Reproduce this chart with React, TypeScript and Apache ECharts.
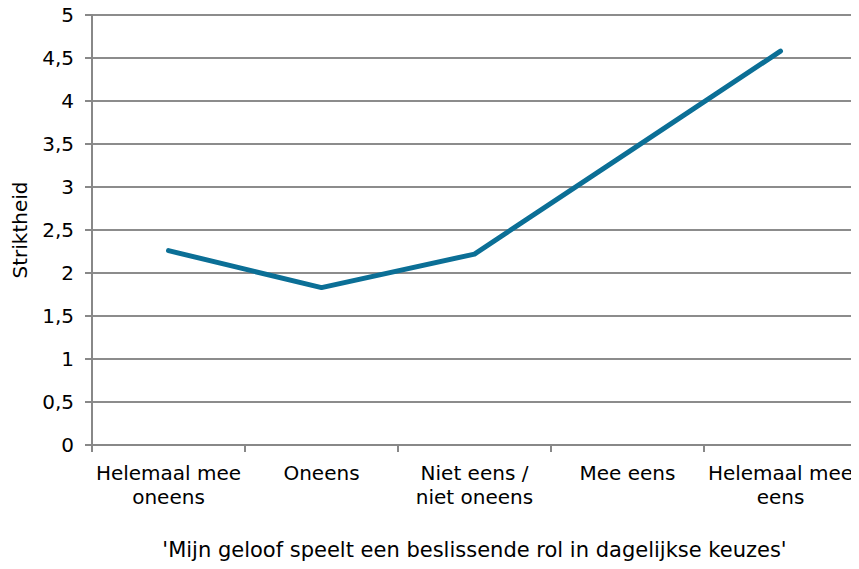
import React, { useEffect, useRef } from "react";
import * as echarts from "echarts";

const categories = [
  "Helemaal mee\noneens",
  "Oneens",
  "Niet eens /\nniet oneens",
  "Mee eens",
  "Helemaal mee\neens",
];
const values = [2.26, 1.83, 2.22, 3.4, 4.58];
const yAxisName = "Striktheid";
const xAxisName = "'Mijn geloof speelt een beslissende rol in dagelijkse keuzes'";

export default function App() {
  const ref = useRef<HTMLDivElement>(null);
  useEffect(() => {
    if (!ref.current) return;
    const chart = echarts.init(ref.current, undefined, { renderer: "svg" });
    const font = "'DejaVu Sans', Verdana, sans-serif";
    chart.setOption({
      animation: false,
      textStyle: { fontFamily: font },
      grid: { left: 92, right: 2, top: 15, bottom: 124 },
      xAxis: {
        type: "category",
        data: categories,
        boundaryGap: true,
        name: xAxisName,
        nameLocation: "middle",
        nameGap: 94,
        nameTextStyle: { fontSize: 21, color: "#000", fontFamily: font },
        axisLine: { lineStyle: { color: "#888", width: 2 } },
        axisTick: { show: true, length: 7, lineStyle: { color: "#888", width: 2 } },
        axisLabel: { fontSize: 20, color: "#000", margin: 16, lineHeight: 24, fontFamily: font, interval: 0 },
      },
      yAxis: {
        type: "value",
        min: 0,
        max: 5,
        interval: 0.5,
        name: yAxisName,
        nameLocation: "middle",
        nameGap: 62,
        nameRotate: 90,
        nameTextStyle: { fontSize: 20, color: "#000", fontFamily: font },
        axisLine: { show: true, lineStyle: { color: "#888", width: 2 } },
        axisTick: { show: true, length: 7, lineStyle: { color: "#888", width: 2 } },
        axisLabel: {
          fontSize: 20,
          color: "#000",
          margin: 18,
          fontFamily: font,
          formatter: (v: number) => String(v).replace(".", ","),
        },
        splitLine: { show: true, lineStyle: { color: "#8c8c8c", width: 2 } },
      },
      series: [
        {
          type: "line",
          data: values,
          symbol: "none",
          lineStyle: { color: "#0b6f96", width: 5, cap: "round", join: "round" },
        },
      ],
    });
    return () => chart.dispose();
  }, []);
  return <div ref={ref} style={{ width: 859, height: 569, margin: -8 }} />;
}
